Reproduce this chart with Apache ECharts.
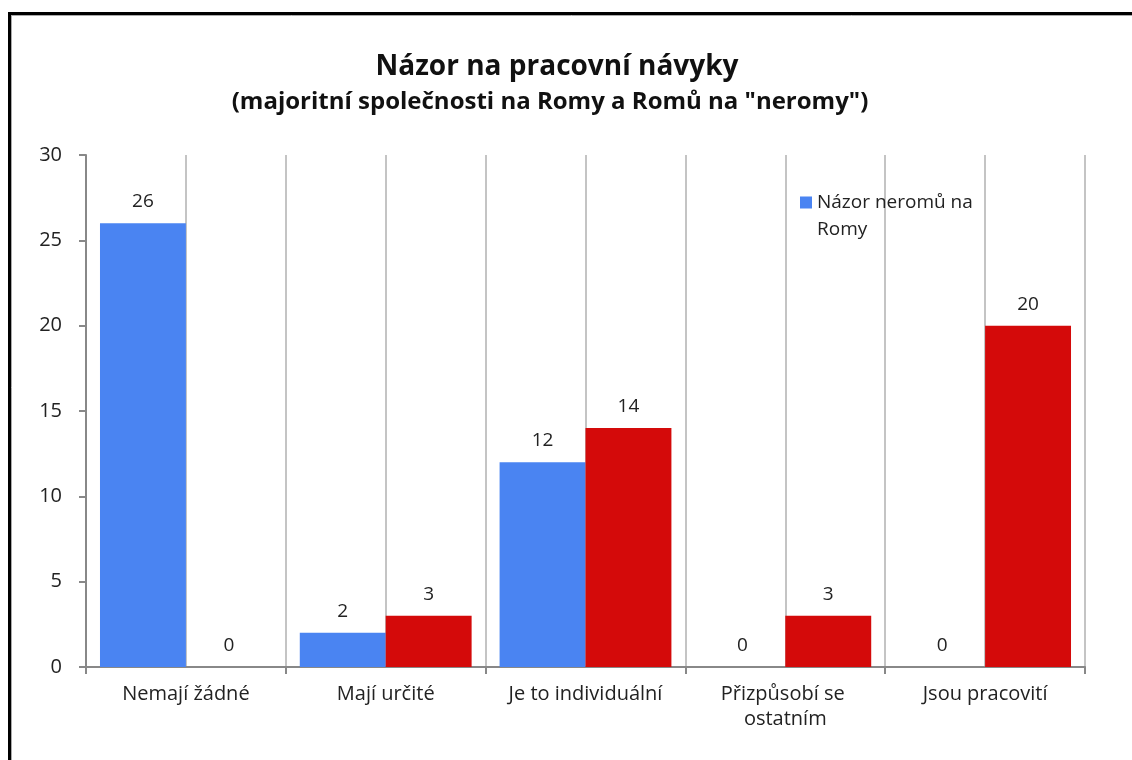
<!DOCTYPE html>
<html>
<head>
<meta charset="utf-8">
<script src="https://cdn.jsdelivr.net/npm/echarts@6/dist/echarts.min.js"></script>
<style>
  html, body { margin: 0; padding: 0; background: #fff; }
  #chart { width: 1132px; height: 760px; }
</style>
</head>
<body>
<div id="chart"></div>
<script>
var categories = ['Nemají žádné', 'Mají určité', 'Je to individuální', 'Přizpůsobí se ostatním', 'Jsou pracovití']
var seriesNames = ['Názor neromů na Romy', 'Názor Romů na neromy']
var neromoveData = [26, 2, 12, 0, 0]
var romoveData = [0, 3, 14, 3, 20]
var yTicks = { min: 0, max: 30, interval: 5 }

var font = '"Open Sans", "Noto Sans", sans-serif'

var option = {
  backgroundColor: '#fff',
  animation: false,
  title: [
    {
      text: 'Názor na pracovní návyky',
      left: 552,
      textAlign: 'center',
      top: 48,
      textStyle: { fontFamily: font, fontSize: 28, fontWeight: 'bold', color: '#111' }
    },
    {
      text: '(majoritní společnosti na Romy a Romů na "neromy")',
      left: 545,
      textAlign: 'center',
      top: 85,
      textStyle: { fontFamily: font, fontSize: 24, fontWeight: 'bold', color: '#111' }
    }
  ],
  legend: {
    data: [seriesNames[0]],
    left: 795,
    top: 184,
    orient: 'vertical',
    // square sits at the top of a taller icon box so it lines up with the first text line
    icon: 'path://M0,0L12,0L12,12L0,12Z M0,39L0.01,39',
    itemWidth: 12,
    itemHeight: 39,
    formatter: function (name) {
      return 'Názor neromů na\nRomy'
    },
    textStyle: { fontFamily: font, fontSize: 19, color: '#222', lineHeight: 27 }
  },
  grid: { left: 86, right: 47, top: 155, bottom: 93 },
  xAxis: [
    {
      type: 'category',
      data: categories,
      axisLine: { lineStyle: { color: '#888', width: 2 } },
      axisTick: { show: true, interval: 0, length: 7, lineStyle: { color: '#888', width: 2 } },
      axisLabel: {
        interval: 0,
        margin: 15,
        width: 190,
        overflow: 'break',
        lineHeight: 25,
        fontFamily: font,
        fontSize: 20,
        color: '#222'
      },
      splitLine: { show: false }
    },
    {
      // helper axis: vertical lines at every half category
      type: 'value',
      min: 0,
      max: 10,
      interval: 1,
      position: 'top',
      axisLine: { show: false },
      axisTick: { show: false },
      axisLabel: { show: false },
      splitLine: { show: true, lineStyle: { color: '#c4c4c4', width: 2 } }
    }
  ],
  yAxis: {
    type: 'value',
    min: yTicks.min,
    max: yTicks.max,
    interval: yTicks.interval,
    axisLine: { show: true, lineStyle: { color: '#888', width: 2 } },
    axisTick: { show: true, length: 7, lineStyle: { color: '#888', width: 2 } },
    axisLabel: { margin: 24, fontFamily: font, fontSize: 20, color: '#222' },
    splitLine: { show: false }
  },
  series: [
    {
      name: seriesNames[0],
      type: 'bar',
      data: neromoveData,
      barGap: '0%',
      barCategoryGap: '14%',
      itemStyle: { color: '#4a84f2' },
      label: { show: true, position: 'top', distance: 12, fontFamily: font, fontSize: 19, color: '#222' }
    },
    {
      name: seriesNames[1],
      type: 'bar',
      data: romoveData,
      barGap: '0%',
      barCategoryGap: '14%',
      itemStyle: { color: '#d40a0a' },
      label: { show: true, position: 'top', distance: 12, fontFamily: font, fontSize: 19, color: '#222' }
    }
  ],
  graphic: [
    { type: 'line', shape: { x1: 8, y1: 13.5, x2: 1132, y2: 13.5 }, style: { stroke: '#000', lineWidth: 3 } },
    { type: 'line', shape: { x1: 9.5, y1: 12, x2: 9.5, y2: 760 }, style: { stroke: '#000', lineWidth: 3 } },
    { type: 'line', shape: { x1: 11, y1: 15.5, x2: 1132, y2: 15.5 }, style: { stroke: '#aaa', lineWidth: 1 } },
    { type: 'line', shape: { x1: 11.5, y1: 15, x2: 11.5, y2: 760 }, style: { stroke: '#aaa', lineWidth: 1 } }
  ]
}

var chart = echarts.init(document.getElementById('chart'))
chart.setOption(option)
</script>
</body>
</html>
